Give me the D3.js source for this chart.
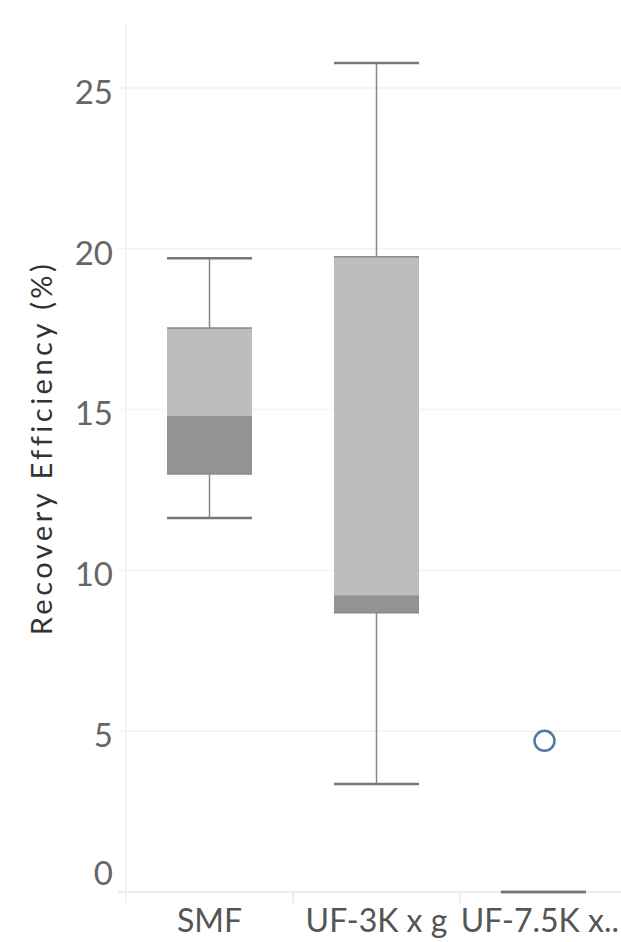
<!DOCTYPE html>
<html>
<head>
<meta charset="utf-8">
<script src="https://cdn.jsdelivr.net/npm/d3@7"></script>
<style>
  body { margin: 0; background: #fff; }
  text { font-family: Lato, "Open Sans", sans-serif; }
</style>
</head>
<body>
<div id="chart"></div>
<script>
// data
const categories = ['SMF', 'UF-3K x g', 'UF-7.5K x..'];
const whiskerLow = [11.63, 3.36, 0];
const q1 = [13.0, 8.68, 0];
const median = [14.8, 9.23, 0];
const q3 = [17.54, 19.75, 0];
const whiskerHigh = [19.71, 25.78, 0];
const outliers = [[], [], [4.7]];
const yTicks = [0, 5, 10, 15, 20, 25];

const width = 621, height = 942;
const plot = { left: 126, right: 627, top: 22, bottom: 893 };

const svg = d3.select('#chart').append('svg')
  .attr('width', width)
  .attr('height', height);

const x = d3.scaleBand()
  .domain(categories)
  .range([plot.left, plot.right]);

const y = d3.scaleLinear()
  .domain([0, 27])
  .range([892, 892 - 27 * 32.16]);

const boxW = 85;

// grid lines
svg.append('g').selectAll('line')
  .data(yTicks)
  .enter().append('line')
    .attr('x1', plot.left - 8).attr('x2', width)
    .attr('y1', d => y(d)).attr('y2', d => y(d))
    .style('stroke', d => d === 0 ? '#e6e6e6' : '#f2f2f2')
    .style('stroke-width', 1.5);

svg.append('line')
  .attr('x1', plot.left).attr('x2', plot.left)
  .attr('y1', plot.top).attr('y2', plot.bottom + 10)
  .style('stroke', '#f0f0f0').style('stroke-width', 1.5);

// category dividers (short ticks under the axis)
svg.append('g').selectAll('line')
  .data(categories.slice(1))
  .enter().append('line')
    .attr('x1', d => x(d)).attr('x2', d => x(d))
    .attr('y1', plot.bottom).attr('y2', plot.bottom + 10)
    .style('stroke', '#e6e6e6').style('stroke-width', 1.5);

// y tick labels
svg.append('g').selectAll('text')
  .data(yTicks)
  .enter().append('text')
    .attr('x', 113)
    .attr('y', d => d === 0 ? y(d) - 19 : y(d) + 4)
    .attr('dy', '0.36em')
    .attr('text-anchor', 'end')
    .style('font-size', '33px')
    .style('fill', '#666')
    .text(d => d);

// y title
svg.append('text')
  .attr('transform', `translate(${42}, ${448}) rotate(-90)`)
  .attr('text-anchor', 'middle')
  .attr('dy', '0.36em')
  .style('font-size', '29px')
  .style('letter-spacing', '3.5px')
  .style('fill', '#333')
  .text('Recovery Efficiency (%)');

// category labels
const catLabels = svg.append('g').selectAll('text')
  .data(categories)
  .enter().append('text')
    .attr('x', d => x(d) + x.bandwidth() / 2)
    .attr('y', 932)
    .attr('text-anchor', 'middle')
    .style('font-size', '32px')
    .style('fill', '#555')
    .text(d => d);

// keep the last (truncated) label inside the frame
catLabels.each(function () {
  const b = this.getBBox();
  if (b.x + b.width > width - 2) {
    d3.select(this).attr('x', +d3.select(this).attr('x') - (b.x + b.width - (width - 2)));
  }
});

// boxes
const boxes = svg.append('g').selectAll('g')
  .data(categories)
  .enter().append('g')
    .attr('transform', d => `translate(${x(d) + x.bandwidth() / 2}, 0)`);

// whiskers
boxes.append('line')
  .attr('x1', 0).attr('x2', 0)
  .attr('y1', (d, i) => y(whiskerHigh[i]))
  .attr('y2', (d, i) => y(q3[i]))
  .style('stroke', '#888').style('stroke-width', 1.5);

boxes.append('line')
  .attr('x1', 0).attr('x2', 0)
  .attr('y1', (d, i) => y(q1[i]))
  .attr('y2', (d, i) => y(whiskerLow[i]))
  .style('stroke', '#888').style('stroke-width', 1.5);

// upper box half
boxes.append('rect')
  .attr('x', -boxW / 2)
  .attr('width', boxW)
  .attr('y', (d, i) => y(q3[i]))
  .attr('height', (d, i) => y(median[i]) - y(q3[i]))
  .style('fill', '#bdbdbd');

// lower box half
boxes.append('rect')
  .attr('x', -boxW / 2)
  .attr('width', boxW)
  .attr('y', (d, i) => y(median[i]))
  .attr('height', (d, i) => y(q1[i]) - y(median[i]))
  .style('fill', '#939393');

// box edges
[q3, q1].forEach(arr => {
  boxes.filter((d, i) => q3[i] !== q1[i]).append('line')
    .attr('x1', -boxW / 2).attr('x2', boxW / 2)
    .attr('y1', d => y(arr[categories.indexOf(d)]))
    .attr('y2', d => y(arr[categories.indexOf(d)]))
    .style('stroke', '#8a8a8a').style('stroke-width', 1.5);
});

// whisker caps
[whiskerHigh, whiskerLow].forEach(arr => {
  boxes.append('line')
    .attr('x1', -boxW / 2).attr('x2', boxW / 2)
    .attr('y1', (d, i) => y(arr[i]))
    .attr('y2', (d, i) => y(arr[i]))
    .style('stroke', '#777').style('stroke-width', 2.5);
});

// outlier points
boxes.selectAll('circle')
  .data((d, i) => outliers[i])
  .enter().append('circle')
    .attr('cx', 1)
    .attr('cy', d => y(d))
    .attr('r', 10)
    .style('fill', 'none')
    .style('stroke', '#4e79a7')
    .style('stroke-width', 2.5);
</script>
</body>
</html>
